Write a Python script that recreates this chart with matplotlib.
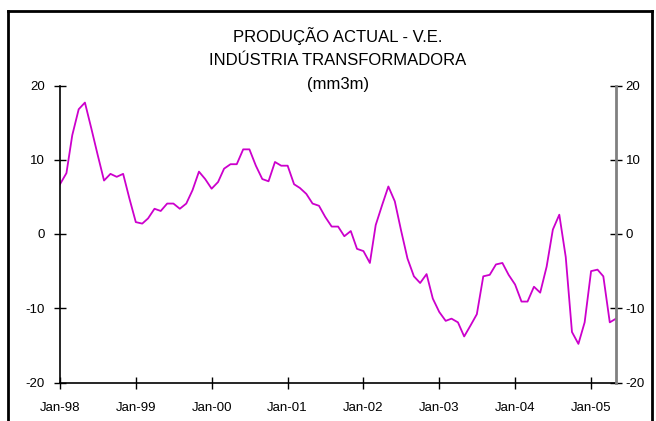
import matplotlib
matplotlib.use("Agg")
import matplotlib.pyplot as plt
from matplotlib.lines import Line2D
import pandas as pd

plt.rcParams['font.family'] = ['Liberation Sans', 'DejaVu Sans']

title_lines = ["PRODUÇÃO ACTUAL - V.E.", "INDÚSTRIA TRANSFORMADORA", "(mm3m)"]
start_month = "1998-01"
values = [
    6.7, 8.2, 13.3, 16.8, 17.7, 14.2, 10.7, 7.2, 8.1, 7.7, 8.1, 4.8,
    1.6, 1.4, 2.1, 3.4, 3.1, 4.1, 4.1, 3.4, 4.1, 5.9, 8.4, 7.4,
    6.1, 7.0, 8.8, 9.4, 9.4, 11.4, 11.4, 9.2, 7.4, 7.1, 9.7, 9.2,
    9.2, 6.7, 6.2, 5.4, 4.1, 3.8, 2.3, 1.0, 1.0, -0.3, 0.4, -2.0,
    -2.3, -3.9, 1.2, 3.9, 6.4, 4.4, 0.5, -3.3, -5.7, -6.6, -5.4, -8.7,
    -10.5, -11.7, -11.4, -11.9, -13.8, -12.3, -10.8, -5.7, -5.5, -4.1, -3.9, -5.5,
    -6.8, -9.1, -9.1, -7.1, -7.9, -4.4, 0.6, 2.6, -3.1, -13.2, -14.8, -11.9,
    -5.0, -4.8, -5.7, -11.9, -11.4,
]
dates = pd.date_range(start_month, periods=len(values), freq="MS")
year_ticks = pd.date_range("1998-01-01", "2005-01-01", freq="YS")
year_labels = [d.strftime("Jan-%y") for d in year_ticks]
y_ticks = [-20, -10, 0, 10, 20]

W, H = 656, 421
fig = plt.figure(figsize=(W / 100, H / 100), dpi=100)
ax = fig.add_axes([60 / W, 1 - 382.5 / H, (616 - 60) / W, (382.5 - 85.5) / H])

ax.plot(dates, values, color="#CC00CC", lw=1.3)
ax.set_xlim(dates[0], dates[-1])
ax.set_ylim(-20, 20)

ax.set_xticks(year_ticks)
ax.set_xticklabels(year_labels)
ax.set_yticks(y_ticks)
ax.set_yticklabels([str(v) for v in y_ticks])

ax.tick_params(axis="both", direction="inout", length=8, width=1, colors="black",
               labelsize=9.5)
ax.tick_params(axis="x", pad=10)
ax.tick_params(axis="y", right=False, pad=7)

ax.spines["top"].set_visible(False)
ax.spines["right"].set_visible(False)
ax.spines["left"].set_color("black")
ax.spines["left"].set_linewidth(1.2)
ax.spines["bottom"].set_color("black")
ax.spines["bottom"].set_linewidth(1.2)

ax2 = ax.twinx()
ax2.set_ylim(-20, 20)
ax2.set_yticks(y_ticks)
ax2.set_yticklabels([str(v) for v in y_ticks])
ax2.tick_params(axis="y", direction="inout", length=8, width=1, colors="black",
                labelsize=9.5, pad=3)
for s in ["top", "left", "bottom"]:
    ax2.spines[s].set_visible(False)
ax2.spines["right"].set_color("#808080")
ax2.spines["right"].set_linewidth(2)

cx = (60 + 616) / 2 / W
for i, t in enumerate(title_lines):
    fig.text(cx, 1 - (36 + 24.5 * i) / H, t, ha="center", va="center", fontsize=12)

# figure border
x0, x1 = 7.5 / W, 652 / W
y_top = 1 - 10.5 / H
fig.add_artist(Line2D([x0, x0], [0, y_top], color="black", lw=2, transform=fig.transFigure))
fig.add_artist(Line2D([x0, x1], [y_top, y_top], color="black", lw=2, transform=fig.transFigure))
fig.add_artist(Line2D([x1, x1], [0, y_top], color="black", lw=2, transform=fig.transFigure))

fig.savefig("out.png", dpi=100)
